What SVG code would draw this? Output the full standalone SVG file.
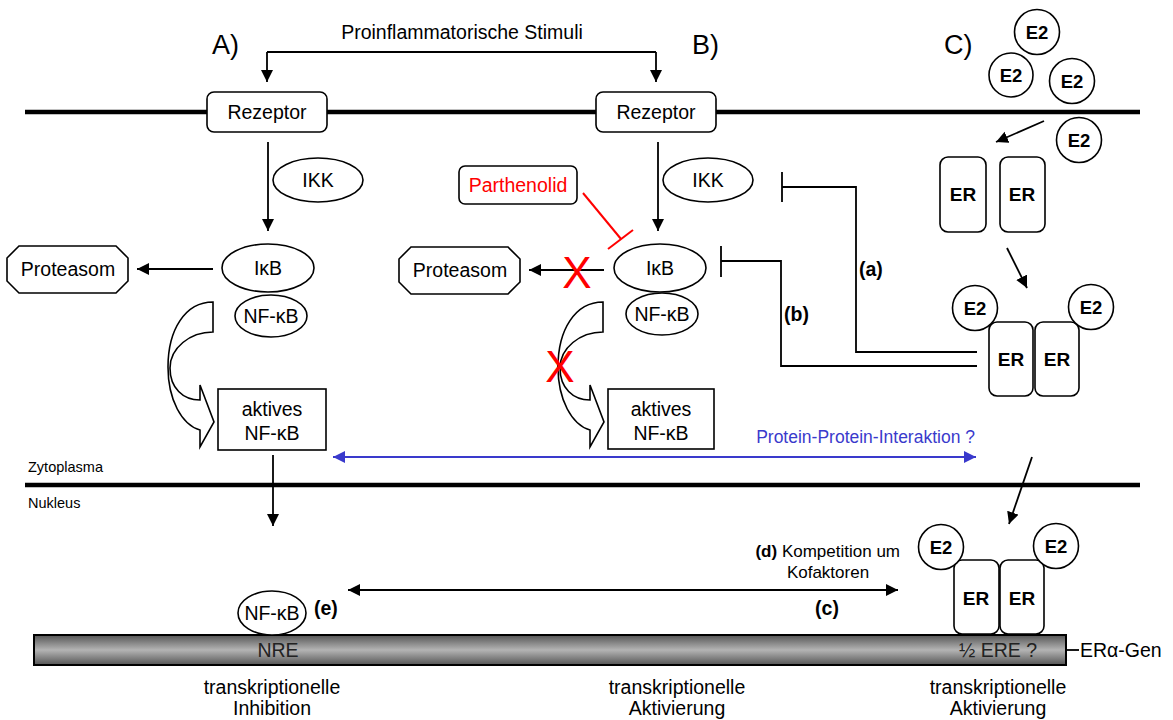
<svg xmlns="http://www.w3.org/2000/svg" width="1173" height="720" viewBox="0 0 1173 720">
<style>
text{font-family:"Liberation Sans",Arial,sans-serif;fill:#000}
.t{font-size:19.5px}
.lbl{font-size:27px}
.sm{font-size:14.5px}
.e2{font-size:18.5px;font-weight:bold}
.er{font-size:19px;font-weight:bold}
.b{font-weight:bold}
.shape{fill:#fff;stroke:#000;stroke-width:1.6}
.ln{fill:none;stroke:#000;stroke-width:1.8}
.mem{fill:none;stroke:#000;stroke-width:4.5}
.red{fill:#f00}
</style>
<defs>
<marker id="ah" markerUnits="userSpaceOnUse" markerWidth="13" markerHeight="13" refX="12" refY="6" orient="auto-start-reverse"><path d="M0,0 L12,6 L0,12 z" fill="#000"/></marker>
<marker id="ahb" markerUnits="userSpaceOnUse" markerWidth="13" markerHeight="13" refX="12" refY="6" orient="auto-start-reverse"><path d="M0,0 L12,6 L0,12 z" fill="#3a3acc"/></marker>
<linearGradient id="dna" x1="0" y1="0" x2="0" y2="1">
<stop offset="0" stop-color="#555"/><stop offset="0.5" stop-color="#b4b4b4"/><stop offset="1" stop-color="#555"/>
</linearGradient>
</defs>
<rect width="1173" height="720" fill="#fff"/>

<!-- membranes -->
<g id="membranes">
<line class="mem" x1="25" y1="112" x2="1140" y2="112"/>
<line class="mem" x1="25" y1="485" x2="1140" y2="485"/>
<text class="sm" x="28" y="472">Zytoplasma</text>
<text class="sm" x="28" y="508">Nukleus</text>
</g>

<!-- panel labels -->
<g id="labels">
<text class="lbl" x="212" y="54">A)</text>
<text class="lbl" x="692" y="54">B)</text>
<text class="lbl" x="944" y="54">C)</text>
<text class="t" x="462" y="39" text-anchor="middle">Proinflammatorische Stimuli</text>
</g>

<!-- connectors -->
<g id="connectors">
<path class="ln" d="M267,52 H656 M267,52 V82" marker-end="url(#ah)"/>
<path class="ln" d="M656,52 V82" marker-end="url(#ah)"/>
<line class="ln" x1="268" y1="142" x2="268" y2="231" marker-end="url(#ah)"/>
<line class="ln" x1="658" y1="142" x2="658" y2="231" marker-end="url(#ah)"/>
<line class="ln" x1="213" y1="269" x2="137" y2="269" marker-end="url(#ah)"/>
<line class="ln" x1="604" y1="270" x2="529" y2="270" marker-end="url(#ah)"/>
<line class="ln" x1="273" y1="455" x2="273" y2="526" marker-end="url(#ah)"/>
<!-- curved block arrows -->
<path class="shape" d="M213,302 C185,302 168,330 168,367 C168,400 182,425 200,430 L200,447 L214,422 L200,385 L200,400 C183,400 170,388 170,368 C170,348 190,332 213,332 Z"/>
<path class="shape" d="M603,302 C575,302 558,330 558,367 C558,400 572,425 590,430 L590,447 L604,422 L590,385 L590,400 C573,400 560,388 560,368 C560,348 580,332 603,332 Z"/>
<!-- parthenolid inhibition -->
<line x1="583" y1="193" x2="621" y2="239" stroke="#f00" stroke-width="2"/>
<line x1="608" y1="249" x2="633" y2="230" stroke="#f00" stroke-width="2"/>
<!-- ER inhibitions (a), (b) -->
<path class="ln" d="M977,352 H856 V187 H782 M782,172 V202"/>
<path class="ln" d="M977,366 H781 V261 H721 M721,246 V277"/>
<text class="t b" x="859" y="276">(a)</text>
<text class="t b" x="784" y="321">(b)</text>
<!-- E2 uptake / ER dimerisation -->
<line class="ln" x1="1044" y1="121" x2="996" y2="142" marker-end="url(#ah)"/>
<line class="ln" x1="1007" y1="248" x2="1027" y2="288" marker-end="url(#ah)"/>
<line class="ln" x1="1032" y1="457" x2="1009" y2="524" marker-end="url(#ah)"/>
<!-- protein-protein interaction -->
<line x1="333" y1="457" x2="976" y2="457" stroke="#3a3acc" stroke-width="2" marker-start="url(#ahb)" marker-end="url(#ahb)"/>
<text x="975" y="443" font-size="17.5" text-anchor="end" style="fill:#3a3acc">Protein-Protein-Interaktion ?</text>
<!-- competition -->
<line class="ln" x1="348" y1="590" x2="898" y2="590" marker-start="url(#ah)" marker-end="url(#ah)"/>
<text x="900" y="557" font-size="17" text-anchor="end"><tspan font-weight="bold">(d)</tspan> Kompetition um</text>
<text x="828" y="578" font-size="17" text-anchor="middle">Kofaktoren</text>
<text class="t b" x="827" y="615" text-anchor="middle">(c)</text>
<!-- red X marks -->
<text class="red" x="577" y="288" font-size="44" text-anchor="middle">X</text>
<text class="red" x="560" y="382" font-size="44" text-anchor="middle">X</text>
</g>

<!-- Panel A nodes -->
<g id="rezeptorA"><rect class="shape" x="207" y="92" width="120" height="40" rx="7"/><text class="t" x="267" y="119" text-anchor="middle">Rezeptor</text></g>
<g id="ikkA"><ellipse class="shape" cx="318" cy="180" rx="45" ry="22"/><text class="t" x="318" y="187" text-anchor="middle">IKK</text></g>
<g id="proteasomA"><polygon class="shape" points="19,246 116,246 128,258 128,281 116,293 19,293 7,281 7,258"/><text class="t" x="68" y="276" text-anchor="middle">Proteasom</text></g>
<g id="ikbA"><ellipse class="shape" cx="268" cy="268" rx="46" ry="24"/><text class="t" x="268" y="275" text-anchor="middle">IκB</text></g>
<g id="nfkbA"><ellipse class="shape" cx="271" cy="316" rx="36" ry="21"/><text class="t" x="271" y="323" text-anchor="middle">NF-κB</text></g>
<g id="aktivA"><rect class="shape" x="218" y="389" width="108" height="61"/><text class="t" x="272" y="416" text-anchor="middle">aktives</text><text class="t" x="272" y="440" text-anchor="middle">NF-κB</text></g>

<!-- Panel B nodes -->
<g id="rezeptorB"><rect class="shape" x="596" y="92" width="120" height="40" rx="7"/><text class="t" x="656" y="119" text-anchor="middle">Rezeptor</text></g>
<g id="ikkB"><ellipse class="shape" cx="708" cy="180" rx="45" ry="22"/><text class="t" x="708" y="187" text-anchor="middle">IKK</text></g>
<g id="parthenolid"><rect class="shape" x="459" y="166" width="118" height="38" rx="6"/><text class="t" x="518" y="192" text-anchor="middle" style="fill:#f00">Parthenolid</text></g>
<g id="proteasomB"><polygon class="shape" points="411,247 508,247 520,259 520,282 508,294 411,294 399,282 399,259"/><text class="t" x="460" y="277" text-anchor="middle">Proteasom</text></g>
<g id="ikbB"><ellipse class="shape" cx="660" cy="268" rx="46" ry="24"/><text class="t" x="660" y="275" text-anchor="middle">IκB</text></g>
<g id="nfkbB"><ellipse class="shape" cx="662" cy="314" rx="36" ry="21"/><text class="t" x="662" y="321" text-anchor="middle">NF-κB</text></g>
<g id="aktivB"><rect class="shape" x="608" y="389" width="106" height="60"/><text class="t" x="661" y="416" text-anchor="middle">aktives</text><text class="t" x="661" y="440" text-anchor="middle">NF-κB</text></g>

<!-- Panel C nodes -->
<g id="e2free">
<circle class="shape" cx="1037" cy="32" r="22.5"/><text class="e2" x="1037" y="39" text-anchor="middle">E2</text>
<circle class="shape" cx="1011" cy="75" r="22"/><text class="e2" x="1011" y="82" text-anchor="middle">E2</text>
<circle class="shape" cx="1072" cy="81" r="22.5"/><text class="e2" x="1072" y="88" text-anchor="middle">E2</text>
<circle class="shape" cx="1079" cy="140" r="22.5"/><text class="e2" x="1079" y="147" text-anchor="middle">E2</text>
</g>
<g id="erMono">
<rect class="shape" x="940" y="157" width="46" height="75" rx="8"/><text class="er" x="963" y="201" text-anchor="middle">ER</text>
<rect class="shape" x="1000" y="157" width="45" height="75" rx="8"/><text class="er" x="1022" y="201" text-anchor="middle">ER</text>
</g>
<g id="erDimerCyto">
<rect class="shape" x="989" y="322" width="44" height="74" rx="8"/><text class="er" x="1011" y="366" text-anchor="middle">ER</text>
<rect class="shape" x="1035" y="322" width="44" height="74" rx="8"/><text class="er" x="1057" y="366" text-anchor="middle">ER</text>
<circle class="shape" cx="975" cy="308" r="22.5"/><text class="e2" x="975" y="315" text-anchor="middle">E2</text>
<circle class="shape" cx="1091" cy="307" r="22.5"/><text class="e2" x="1091" y="314" text-anchor="middle">E2</text>
</g>

<!-- DNA -->
<g id="dna">
<rect x="34" y="635" width="1032" height="30" fill="url(#dna)" stroke="#000" stroke-width="2"/>
<text class="t" x="278" y="657" text-anchor="middle" style="fill:#222">NRE</text>
<text class="t" x="998" y="657" text-anchor="middle" style="fill:#222">½ ERE ?</text>
<line class="ln" x1="1066" y1="650" x2="1079" y2="650"/>
<text class="t" x="1080" y="657">ERα-Gen</text>
</g>
<g id="nfkbDNA"><ellipse class="shape" cx="272" cy="613" rx="34" ry="22"/><text class="t" x="272" y="620" text-anchor="middle">NF-κB</text><text class="t b" x="314" y="615">(e)</text></g>
<g id="erDimerNuc">
<rect class="shape" x="954" y="560" width="45" height="74" rx="8"/><text class="er" x="976" y="605" text-anchor="middle">ER</text>
<rect class="shape" x="1000" y="560" width="44" height="74" rx="8"/><text class="er" x="1022" y="605" text-anchor="middle">ER</text>
<circle class="shape" cx="941" cy="547" r="22.5"/><text class="e2" x="941" y="554" text-anchor="middle">E2</text>
<circle class="shape" cx="1056" cy="546" r="22.5"/><text class="e2" x="1056" y="553" text-anchor="middle">E2</text>
</g>

<!-- outcomes -->
<g id="outcomes">
<text class="t" x="272" y="694" text-anchor="middle">transkriptionelle</text>
<text class="t" x="272" y="715" text-anchor="middle">Inhibition</text>
<text class="t" x="677" y="694" text-anchor="middle">transkriptionelle</text>
<text class="t" x="677" y="715" text-anchor="middle">Aktivierung</text>
<text class="t" x="998" y="694" text-anchor="middle">transkriptionelle</text>
<text class="t" x="998" y="715" text-anchor="middle">Aktivierung</text>
</g>
</svg>
